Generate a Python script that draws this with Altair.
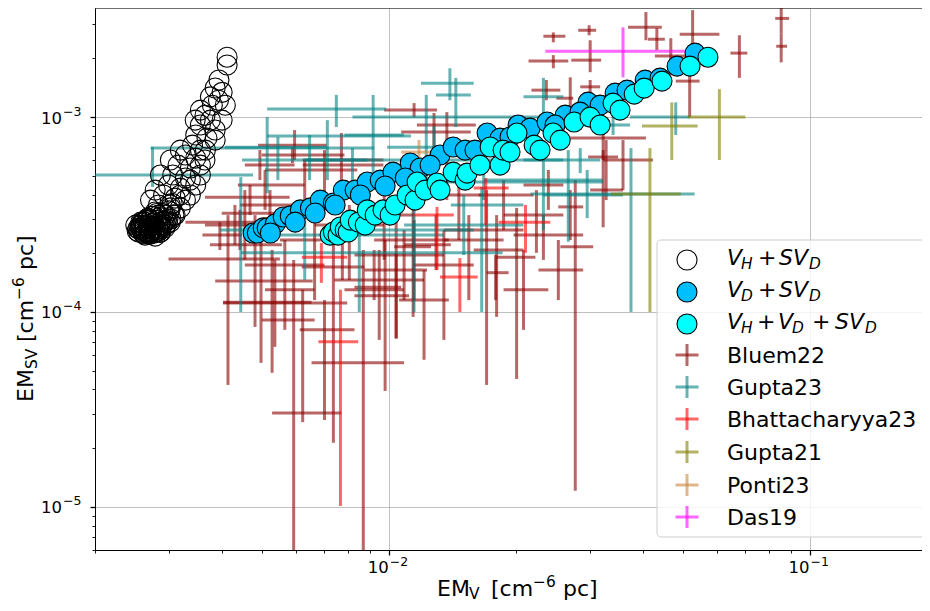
import altair as alt
import pandas as pd

# ---------------- model tracks ----------------
vhsv_x = [4.12e-3, 4.12e-3, 3.94e-3, 3.86e-3, 4.01e-3, 3.76e-3, 3.93e-3, 3.80e-3, 3.65e-3, 3.76e-3,
          3.56e-3, 3.86e-3, 3.47e-3, 3.69e-3, 3.41e-3, 3.56e-3, 3.28e-3, 3.47e-3, 3.15e-3, 3.37e-3,
          3.06e-3, 3.28e-3, 2.99e-3, 3.19e-3, 2.91e-3, 3.10e-3, 2.83e-3, 3.02e-3, 2.78e-3, 2.94e-3,
          2.70e-3, 2.86e-3, 2.63e-3, 2.78e-3, 2.57e-3, 2.70e-3, 2.63e-3, 2.78e-3, 2.94e-3, 3.10e-3,
          3.28e-3, 3.47e-3, 2.57e-3, 2.67e-3, 2.83e-3, 2.50e-3, 2.54e-3, 2.59e-3, 2.73e-3, 2.86e-3,
          3.02e-3, 3.19e-3, 3.37e-3, 3.56e-3, 3.65e-3,
          2.55e-3, 2.60e-3, 2.65e-3, 2.68e-3, 2.72e-3, 2.75e-3, 2.80e-3, 2.85e-3, 2.90e-3, 2.62e-3,
          2.70e-3, 2.76e-3, 2.82e-3, 2.88e-3, 2.95e-3, 3.00e-3, 3.05e-3, 2.58e-3, 2.66e-3, 2.74e-3,
          3.19e-3, 3.02e-3, 2.86e-3, 2.78e-3, 2.71e-3, 3.66e-3, 3.56e-3, 3.37e-3, 3.19e-3, 3.02e-3,
          3.86e-3, 4.01e-3, 4.08e-3, 3.56e-3, 3.46e-3,
          2.52e-3, 2.56e-3, 2.62e-3, 2.68e-3, 2.74e-3, 2.80e-3, 2.85e-3, 2.92e-3, 2.98e-3, 2.70e-3,
          2.53e-3, 2.57e-3, 2.61e-3, 2.64e-3, 2.67e-3, 2.71e-3, 2.73e-3, 2.77e-3, 2.80e-3, 2.83e-3,
          2.87e-3, 2.90e-3, 2.93e-3, 2.97e-3, 3.03e-3, 3.08e-3, 2.60e-3, 2.68e-3, 2.76e-3, 2.86e-3]
vhsv_y = [2.03e-3, 1.85e-3, 1.55e-3, 1.41e-3, 1.34e-3, 1.27e-3, 1.22e-3, 1.15e-3, 1.02e-3, 9.65e-4,
          9.10e-4, 8.58e-4, 8.09e-4, 7.80e-4, 7.18e-4, 6.77e-4, 6.39e-4, 6.16e-4, 5.67e-4, 5.48e-4,
          5.04e-4, 4.87e-4, 4.48e-4, 4.32e-4, 3.98e-4, 3.84e-4, 3.54e-4, 3.42e-4, 3.26e-4, 3.14e-4,
          2.96e-4, 2.89e-4, 2.79e-4, 2.70e-4, 2.70e-4, 2.57e-4, 2.48e-4, 2.45e-4, 2.79e-4, 3.14e-4,
          3.75e-4, 4.48e-4, 2.89e-4, 3.03e-4, 3.14e-4, 2.79e-4, 2.57e-4, 2.63e-4, 2.76e-4, 2.57e-4,
          2.89e-4, 3.42e-4, 3.98e-4, 5.04e-4, 6.02e-4,
          2.65e-4, 2.75e-4, 2.60e-4, 2.70e-4, 2.62e-4, 2.85e-4, 2.95e-4, 3.05e-4, 3.20e-4, 2.52e-4,
          2.50e-4, 2.55e-4, 2.65e-4, 2.75e-4, 2.95e-4, 3.30e-4, 3.60e-4, 2.85e-4, 2.95e-4, 3.10e-4,
          6.77e-4, 6.02e-4, 5.04e-4, 4.22e-4, 3.75e-4, 6.77e-4, 5.67e-4, 4.75e-4, 3.98e-4, 3.54e-4,
          7.62e-4, 9.65e-4, 1.15e-3, 1.086e-3, 9.65e-4,
          2.60e-4, 2.70e-4, 2.66e-4, 2.56e-4, 2.68e-4, 2.58e-4, 2.80e-4, 2.90e-4, 3.00e-4, 2.80e-4,
          2.68e-4, 2.78e-4, 2.90e-4, 2.56e-4, 3.00e-4, 2.74e-4, 3.10e-4, 2.62e-4, 3.20e-4, 2.60e-4,
          2.68e-4, 2.82e-4, 2.70e-4, 2.86e-4, 3.00e-4, 3.15e-4, 2.55e-4, 2.52e-4, 2.54e-4, 2.56e-4]

vdsv_x = [0.00475, 0.00486, 0.00502, 0.00513, 0.00536, 0.0056, 0.00582, 0.00615, 0.0065, 0.00686,
          0.00737, 0.00778, 0.0083, 0.00887, 0.00952, 0.01021, 0.01122, 0.01185, 0.01321, 0.01419,
          0.01515, 0.01709, 0.01834, 0.02024, 0.02162, 0.02372, 0.02619, 0.02968, 0.03172, 0.03442,
          0.03674, 0.04057, 0.04401, 0.04831, 0.0533,
          0.00522, 0.00598, 0.00667, 0.00744, 0.00854, 0.00978, 0.01092, 0.01251, 0.01599, 0.01937,
          0.02478, 0.02841]
vdsv_y = [2.54e-4, 2.54e-4, 2.70e-4, 2.70e-4, 2.83e-4, 3.07e-4, 3.11e-4, 3.34e-4, 3.42e-4, 3.75e-4,
          3.62e-4, 4.22e-4, 4.22e-4, 4.64e-4, 4.75e-4, 5.22e-4, 5.81e-4, 5.48e-4, 6.39e-4, 7.02e-4,
          6.77e-4, 8.28e-4, 7.80e-4, 9.10e-4, 8.78e-4, 9.43e-4, 1.024e-3, 1.194e-3, 1.152e-3, 1.327e-3,
          1.375e-3, 1.548e-3, 1.585e-3, 1.826e-3, 2.129e-3,
          2.54e-4, 2.89e-4, 3.22e-4, 3.54e-4, 3.98e-4, 4.43e-4, 4.87e-4, 5.67e-4, 6.77e-4, 7.90e-4,
          9.10e-4, 1.061e-3]

vhvdsv_x = [7.24e-3, 7.37e-3, 7.56e-3, 7.65e-3, 7.86e-3, 7.99e-3, 8.08e-3, 8.45e-3, 8.77e-3, 8.87e-3,
            9.26e-3, 9.67e-3, 0.01005, 0.01033, 0.01103, 0.01152, 0.01165, 0.01217, 0.01299, 0.01321,
            0.01419, 0.01515, 0.01532, 0.01643, 0.01737, 0.01834, 0.01865, 0.01937, 0.02012, 0.0221,
            0.02283, 0.02451, 0.02549, 0.0275, 0.03001, 0.03172, 0.03404, 0.03536, 0.03821, 0.04035,
            0.04449, 0.05186, 0.0572]
vhvdsv_y = [2.48e-4, 2.57e-4, 2.48e-4, 2.73e-4, 2.63e-4, 2.57e-4, 2.96e-4, 2.89e-4, 2.79e-4, 3.34e-4,
            3.14e-4, 3.34e-4, 3.14e-4, 3.54e-4, 3.98e-4, 3.75e-4, 4.64e-4, 4.22e-4, 4.59e-4, 4.22e-4,
            5.22e-4, 4.75e-4, 5.16e-4, 5.67e-4, 7.02e-4, 5.67e-4, 6.77e-4, 6.61e-4, 8.28e-4, 7.18e-4,
            6.77e-4, 8.28e-4, 7.62e-4, 9.43e-4, 1.0e-3, 9.10e-4, 1.18e-3, 1.086e-3, 1.312e-3, 1.408e-3,
            1.53e-3, 1.826e-3, 2.03e-3]

# ---------------- observations: centre and error-bar ends ----------------
bluem22_x = [0.0854, 0.0854, 0.06794, 0.0526, 0.04074, 0.04325, 0.04668, 0.05176, 0.02455, 0.02986,
             0.02455, 0.03003, 0.02363, 0.02693, 0.03003, 0.03224, 0.03277, 0.02768, 0.03224, 0.02693,
             0.02389, 0.00414, 0.00496, 0.0048, 0.00527, 0.00535, 0.00593, 0.00623, 0.00737, 0.00868,
             0.00978, 0.01039, 0.0114, 0.01704, 0.018, 0.02008, 0.00396, 0.00589, 0.0077, 0.00454,
             0.0043, 0.00467, 0.01146, 0.01278, 0.00702, 0.0063, 0.01371, 0.00596, 0.00947, 0.01146,
             0.0179, 0.01292, 0.01085, 0.01039, 0.02238, 0.02325, 0.00774, 0.00921, 0.00507, 0.00493,
             0.00665, 0.00804, 0.00565, 0.01349, 0.01546, 0.02085, 0.02523, 0.0121, 0.00702, 0.00442,
             0.00521, 0.0187, 0.03594, 0.00973, 0.01464]
bluem22_y = [3.21e-3, 2.31e-3, 2.13e-3, 2.66e-3, 2.89e-3, 2.51e-3, 2.06e-3, 1.53e-3, 2.60e-3, 2.79e-3,
             1.94e-3, 1.96e-3, 1.375e-3, 1.25e-3, 1.43e-3, 7.80e-4, 6.24e-4, 2.16e-4, 4.22e-4, 3.46e-4,
             4.48e-4, 1.87e-4, 1.44e-4, 2.21e-4, 1.30e-4, 1.12e-4, 9.10e-5, 3.03e-5, 1.11e-4, 5.48e-5,
             1.46e-4, 1.96e-4, 2.34e-4, 2.63e-4, 2.08e-4, 1.91e-4, 2.48e-4, 6.39e-4, 6.02e-4, 3.21e-4,
             2.89e-4, 3.88e-4, 1.086e-3, 9.10e-4, 5.67e-4, 5.35e-4, 8.38e-4, 7.18e-4, 1.34e-4, 2.16e-4,
             1.59e-4, 2.21e-4, 1.64e-4, 1.21e-4, 3.14e-4, 2.48e-4, 1.70e-4, 1.30e-4, 4.48e-4, 5.67e-4,
             2.34e-4, 2.79e-4, 1.74e-4, 1.74e-4, 2.34e-4, 1.30e-4, 1.64e-4, 1.15e-4, 8.09e-5, 2.79e-4,
             3.54e-4, 3.98e-4, 6.02e-4, 3.14e-4, 3.98e-4]
bluem22_xlo = [0.08265, 0.0831, 0.06469, 0.04902, 0.03694, 0.04119, 0.04279, 0.04796, 0.02325, 0.02813,
               0.02143, 0.02708, 0.02178, 0.02496, 0.02844, 0.02593, 0.0297, 0.02551, 0.03003, 0.02523,
               0.02085, 0.00299, 0.00386, 0.00375, 0.00507, 0.00403, 0.00498, 0.00527, 0.00403, 0.00654,
               0.00741, 0.00827, 0.00921, 0.01349, 0.01588, 0.018, 0.0036, 0.00498, 0.00623, 0.004,
               0.00328, 0.00365, 0.00973, 0.01164, 0.00623, 0.00507, 0.01068, 0.00488, 0.00827, 0.01028,
               0.01704, 0.01085, 0.00873, 0.00827, 0.0187, 0.01975, 0.0062, 0.00783, 0.00437, 0.00454,
               0.0055, 0.00665, 0.00454, 0.01146, 0.01349, 0.0187, 0.02263, 0.01056, 0.00613, 0.00365,
               0.00442, 0.01632, 0.03224, 0.00804, 0.01278]
bluem22_xhi = [0.0892, 0.0882, 0.07096, 0.0609, 0.04445, 0.04518, 0.05203, 0.05465, 0.02622, 0.03103,
               0.02664, 0.03189, 0.02551, 0.02738, 0.03172, 0.04074, 0.03498, 0.03053, 0.03594, 0.0289,
               0.02593, 0.0055, 0.00658, 0.00556, 0.00665, 0.00654, 0.00665, 0.0077, 0.00795, 0.01085,
               0.0121, 0.01349, 0.01386, 0.02085, 0.02085, 0.02226, 0.00447, 0.00783, 0.00969, 0.0063,
               0.0063, 0.0058, 0.01299, 0.01606, 0.00969, 0.0084, 0.01563, 0.0071, 0.01068, 0.01257,
               0.01922, 0.01401, 0.0123, 0.01115, 0.02593, 0.0289, 0.00873, 0.01085, 0.0063, 0.00596,
               0.00804, 0.00973, 0.00702, 0.01588, 0.0187, 0.02389, 0.0289, 0.01386, 0.00827, 0.00535,
               0.0063, 0.02202, 0.04232, 0.01146, 0.01677]
bluem22_ylo = [2.69e-3, 1.91e-3, 1.59e-3, 2.34e-3, 2.48e-3, 2.21e-3, 1.64e-3, 1.0e-3, 2.42e-3, 2.63e-3,
               1.78e-3, 1.70e-3, 1.22e-3, 1.086e-3, 1.22e-3, 6.02e-4, 3.75e-4, 1.21e-5, 2.72e-4, 2.34e-4,
               3.34e-4, 4.22e-5, 5.48e-5, 8.38e-5, 4.87e-5, 6.62e-5, 5.0e-6, 2.72e-5, 2.13e-5, 5.0e-6,
               3.93e-5, 7.27e-5, 9.43e-5, 4.22e-5, 9.43e-5, 4.53e-5, 2.08e-4, 5.80e-4, 3.75e-4, 1.85e-4,
               2.21e-4, 3.14e-4, 1.0e-3, 4.75e-4, 3.75e-4, 3.34e-4, 3.75e-4, 6.02e-4, 7.19e-5, 1.15e-4,
               1.15e-4, 1.64e-4, 1.15e-4, 7.36e-5, 2.01e-4, 1.85e-4, 1.46e-4, 1.15e-4, 3.34e-4, 4.75e-4,
               1.15e-4, 1.46e-4, 8.09e-5, 7.19e-5, 1.15e-4, 8.09e-5, 1.15e-4, 5.68e-5, 2.79e-5, 2.08e-4,
               2.34e-4, 2.63e-4, 4.22e-4, 1.85e-4, 2.34e-4]
bluem22_yhi = [3.66e-3, 2.69e-3, 2.63e-3, 3.54e-3, 3.46e-3, 2.86e-3, 2.54e-3, 1.81e-3, 2.72e-3, 2.96e-3,
               2.08e-3, 2.48e-3, 1.55e-3, 1.60e-3, 1.55e-3, 9.10e-4, 7.62e-4, 4.75e-4, 6.77e-4, 4.22e-4,
               5.35e-4, 3.14e-4, 2.34e-4, 3.14e-4, 2.08e-4, 1.85e-4, 1.85e-4, 1.30e-4, 2.34e-4, 2.08e-4,
               2.34e-4, 3.75e-4, 3.75e-4, 4.22e-4, 3.14e-4, 3.42e-4, 2.89e-4, 7.01e-4, 8.28e-4, 4.22e-4,
               3.54e-4, 4.48e-4, 1.18e-3, 1.05e-3, 6.77e-4, 6.02e-4, 1.06e-3, 8.58e-4, 2.08e-4, 2.96e-4,
               1.96e-4, 3.14e-4, 2.63e-4, 2.01e-4, 4.22e-4, 3.14e-4, 2.34e-4, 2.08e-4, 5.35e-4, 6.77e-4,
               3.14e-4, 3.54e-4, 2.34e-4, 2.63e-4, 3.14e-4, 2.08e-4, 2.34e-4, 1.64e-4, 1.15e-4, 3.34e-4,
               4.22e-4, 4.75e-4, 7.62e-4, 3.98e-4, 5.04e-4]

gupta23_x = [0.04796, 0.03754, 0.01394, 0.0144, 0.00749, 0.01225, 0.00916, 0.00274, 0.00444, 0.00849,
             0.01146, 0.01659, 0.02664, 0.02954, 0.02844, 0.03404, 0.02325, 0.00713, 0.00513, 0.00647,
             0.00544, 0.00818, 0.01278, 0.0063, 0.01504, 0.01677, 0.02325]
gupta23_y = [1.0e-3, 4.03e-4, 1.49e-3, 1.30e-3, 1.10e-3, 1.0e-3, 8.09e-4, 5.04e-4, 2.63e-4, 2.01e-4,
             2.63e-4, 3.54e-4, 4.75e-4, 3.98e-4, 6.02e-4, 9.10e-4, 1.27e-3, 8.0e-4, 6.02e-4, 6.93e-4,
             7.01e-4, 6.02e-4, 7.01e-4, 2.48e-4, 2.79e-4, 6.02e-4, 4.64e-4]
gupta23_xlo = [0.03735, 0.02167, 0.0119, 0.01292, 0.00513, 0.00818, 0.00783, 0.001, 0.00396, 0.00444,
               0.00873, 0.01401, 0.01677, 0.02325, 0.02085, 0.02593, 0.02085, 0.00513, 0.00447, 0.00271,
               0.00407, 0.0063, 0.00989, 0.0048, 0.01085, 0.01127, 0.01371]
gupta23_xhi = [0.05176, 0.05318, 0.01588, 0.01563, 0.00984, 0.02593, 0.01085, 0.00475, 0.00521, 0.0186,
               0.01588, 0.02085, 0.03224, 0.03594, 0.03172, 0.03735, 0.02593, 0.01127, 0.00887, 0.00921,
               0.0071, 0.01278, 0.01588, 0.01349, 0.02085, 0.02593, 0.03224]
gupta23_ylo = [8.09e-4, 1.0e-4, 1.22e-3, 8.89e-4, 8.89e-4, 4.75e-4, 4.75e-4, 4.38e-4, 1.0e-4, 1.0e-4,
               1.0e-4, 1.0e-4, 2.29e-4, 3.03e-4, 5.16e-4, 8.09e-4, 9.65e-4, 4.75e-4, 4.07e-4, 4.75e-4,
               4.75e-4, 3.75e-4, 4.22e-4, 1.46e-4, 1.96e-4, 3.75e-4, 2.63e-4]
gupta23_yhi = [1.19e-3, 6.93e-4, 1.78e-3, 1.59e-3, 1.30e-3, 1.30e-3, 1.30e-3, 7.01e-4, 4.92e-4, 3.14e-4,
               3.75e-4, 4.38e-4, 6.77e-4, 5.35e-4, 6.93e-4, 1.22e-3, 1.59e-3, 9.65e-4, 1.0e-3, 8.09e-4,
               7.9e-4, 6.93e-4, 8.99e-4, 3.14e-4, 3.98e-4, 8.58e-4, 6.02e-4]

bhatt23_x = [7.66e-3, 6.90e-3, 0.01472, 0.02108, 0.01696, 0.01299]
bhatt23_y = [7.02e-5, 1.91e-4, 1.51e-4, 2.89e-4, 4.32e-4, 3.14e-4]
bhatt23_xlo = [6.79e-3, 6.20e-3, 0.0132, 0.0182, 0.01588, 0.01146]
bhatt23_xhi = [8.44e-3, 7.95e-3, 0.01623, 0.02415, 0.01922, 0.01424]
bhatt23_ylo = [1.01e-5, 1.41e-4, 1.0e-4, 2.01e-4, 2.79e-4, 1.64e-4]
bhatt23_yhi = [1.30e-4, 2.26e-4, 1.89e-4, 3.54e-4, 4.86e-4, 3.46e-4]

gupta21_x = [0.0609, 0.04693, 0.04164]
gupta21_y = [1.0e-3, 8.99e-4, 4.03e-4]
gupta21_xlo = [0.0512, 0.03986, 0.03367]
gupta21_xhi = [0.0702, 0.05406, 0.04929]
gupta21_ylo = [6.02e-4, 6.02e-4, 1.0e-4]
gupta21_yhi = [1.391e-3, 1.19e-3, 6.93e-4]

ponti23_x = [0.01177]
ponti23_y = [6.61e-4]
ponti23_xlo = [0.01068]
ponti23_xhi = [0.01264]
ponti23_ylo = [6.02e-4]
ponti23_yhi = [7.62e-4]

das19_x = [0.03594]
das19_y = [2.18e-3]
das19_xlo = [0.0235]
das19_xhi = [0.05176]
das19_ylo = [1.60e-3]
das19_yhi = [2.89e-3]

obs_names = ["Bluem22", "Gupta23", "Bhattacharyya23", "Gupta21", "Ponti23", "Das19"]
obs_colors = ["#8b0000", "#008080", "#ff0000", "#808000", "#cd853f", "#ff00ff"]

# tick labels (mantissa "10" + exponent)
x_label_vals = [0.01, 0.1]
x_label_exp = ["\u22122", "\u22121"]
y_label_vals = [1e-5, 1e-4, 1e-3]
y_label_exp = ["\u22125", "\u22124", "\u22123"]

# ---------------- build tables ----------------
obs_sets = [
    ("Bluem22", bluem22_x, bluem22_y, bluem22_xlo, bluem22_xhi, bluem22_ylo, bluem22_yhi),
    ("Gupta23", gupta23_x, gupta23_y, gupta23_xlo, gupta23_xhi, gupta23_ylo, gupta23_yhi),
    ("Bhattacharyya23", bhatt23_x, bhatt23_y, bhatt23_xlo, bhatt23_xhi, bhatt23_ylo, bhatt23_yhi),
    ("Gupta21", gupta21_x, gupta21_y, gupta21_xlo, gupta21_xhi, gupta21_ylo, gupta21_yhi),
    ("Ponti23", ponti23_x, ponti23_y, ponti23_xlo, ponti23_xhi, ponti23_ylo, ponti23_yhi),
    ("Das19", das19_x, das19_y, das19_xlo, das19_xhi, das19_ylo, das19_yhi),
]
rows = []
for name, xs_, ys_, xl, xh, yl, yh in obs_sets:
    for i in range(len(xs_)):
        rows.append({"src": name, "x1": xs_[i], "x2": xs_[i], "y1": yl[i], "y2": yh[i]})
        rows.append({"src": name, "x1": xl[i], "x2": xh[i], "y1": ys_[i], "y2": ys_[i]})
seg = pd.DataFrame(rows)

df_vhsv = pd.DataFrame({"x": vhsv_x, "y": vhsv_y})
df_vdsv = pd.DataFrame({"x": vdsv_x, "y": vdsv_y})
df_vhvdsv = pd.DataFrame({"x": vhvdsv_x, "y": vhvdsv_y})
df_xl = pd.DataFrame({"v": x_label_vals, "e": x_label_exp})
df_yl = pd.DataFrame({"v": y_label_vals, "e": y_label_exp})
one = pd.DataFrame({"k": [0]})

# ---------------- scales & axes ----------------
W, H = 827, 542
X_DOMAIN = [0.002, 0.1845]
Y_DOMAIN = [6e-6, 3.63e-3]
FONT = "DejaVu Sans"

xscale = alt.Scale(type="log", domain=X_DOMAIN, nice=False)
yscale = alt.Scale(type="log", domain=Y_DOMAIN, nice=False)

MAJOR = "abs(log(datum.value)/LN10 - round(log(datum.value)/LN10)) < 0.001"

x_ticks = [m * 10.0 ** e for e in (-3, -2, -1) for m in range(1, 10)
           if X_DOMAIN[0] * 0.999 <= m * 10.0 ** e <= X_DOMAIN[1]]
y_ticks = [m * 10.0 ** e for e in (-6, -5, -4, -3) for m in range(1, 10)
           if Y_DOMAIN[0] * 0.999 <= m * 10.0 ** e <= Y_DOMAIN[1]]


def make_axis(values, orient):
    return alt.Axis(
        values=values, orient=orient, title=None, labels=False,
        grid=True, gridColor="#b0b0b0", gridWidth=0.8,
        gridOpacity={"condition": {"test": MAJOR, "value": 1}, "value": 0},
        tickColor="black",
        tickSize={"condition": {"test": MAJOR, "value": 5}, "value": 3},
        tickWidth={"condition": {"test": MAJOR, "value": 1.3}, "value": 0.9},
        domainColor="black", domainWidth=1,
    )


xaxis = make_axis(x_ticks, "bottom")
yaxis = make_axis(y_ticks, "left")

# ---------------- data layers ----------------
bars = alt.Chart(seg).mark_rule(strokeWidth=3, opacity=0.6, clip=True).encode(
    x=alt.X("x1:Q", scale=xscale, axis=xaxis),
    x2="x2:Q",
    y=alt.Y("y1:Q", scale=yscale, axis=yaxis),
    y2="y2:Q",
    color=alt.Color("src:N", scale=alt.Scale(domain=obs_names, range=obs_colors), legend=None),
)


def circles(df, fill):
    if fill is None:
        mk = alt.Chart(df).mark_point(shape="circle", size=400, filled=False, color="black",
                                      strokeWidth=1.1, opacity=1, clip=True)
    else:
        mk = alt.Chart(df).mark_point(shape="circle", size=400, filled=True, fill=fill,
                                      stroke="black", strokeWidth=1.1, opacity=1,
                                      fillOpacity=1, clip=True)
    return mk.encode(x=alt.X("x:Q", scale=xscale, axis=xaxis),
                     y=alt.Y("y:Q", scale=yscale, axis=yaxis))


c_open = circles(df_vhsv, None)
c_blue = circles(df_vdsv, "#00bfff")
c_cyan = circles(df_vhvdsv, "#00ffff")

top_spine = alt.Chart(one).mark_rule(color="black", strokeWidth=1).encode(
    x=alt.value(0), x2=alt.value(W), y=alt.value(0))

# tick labels 10^n built from two text pieces positioned by the scales
TL, TS = 16.5, 12.5
xl_main = alt.Chart(df_xl).mark_text(text="10", font=FONT, fontSize=TL, align="right",
                                     baseline="alphabetic", color="black", dx=-0.5).encode(
    x=alt.X("v:Q", scale=xscale, axis=xaxis), y=alt.value(H + 23))
xl_exp = alt.Chart(df_xl).mark_text(font=FONT, fontSize=TS, align="left",
                                    baseline="alphabetic", color="black", dx=0.5).encode(
    x=alt.X("v:Q", scale=xscale, axis=xaxis), y=alt.value(H + 16), text="e:N")
yl_main = alt.Chart(df_yl).mark_text(text="10", font=FONT, fontSize=TL, align="right",
                                     baseline="alphabetic", color="black", dy=6.5).encode(
    y=alt.Y("v:Q", scale=yscale, axis=yaxis), x=alt.value(-33))
yl_exp = alt.Chart(df_yl).mark_text(font=FONT, fontSize=TS, align="left",
                                    baseline="alphabetic", color="black", dy=-1.5).encode(
    y=alt.Y("v:Q", scale=yscale, axis=yaxis), x=alt.value(-32), text="e:N")


# ---------------- legend (drawn by hand for the math labels) ----------------
def txt(s, x, y, size=22, style="normal", angle=0):
    return alt.Chart(one).mark_text(text=s, font=FONT, fontSize=size, fontStyle=style,
                                    align="left", baseline="alphabetic", color="black",
                                    angle=angle).encode(x=alt.value(x), y=alt.value(y))


legend_layers = [
    alt.Chart(one).mark_rect(fill="white", fillOpacity=0.8, stroke="#cccccc", strokeWidth=1,
                             cornerRadius=4).encode(
        x=alt.value(562), x2=alt.value(831), y=alt.value(232), y2=alt.value(529))
]
SX = 592
rows_c = [252, 284, 316, 347, 379, 411, 444, 477, 509]
for yc, fill in zip(rows_c[:3], [None, "#00bfff", "#00ffff"]):
    if fill is None:
        m = alt.Chart(one).mark_point(shape="circle", size=400, filled=False, color="black",
                                      strokeWidth=1.1, opacity=1)
    else:
        m = alt.Chart(one).mark_point(shape="circle", size=400, filled=True, fill=fill,
                                      stroke="black", strokeWidth=1.1, opacity=1)
    legend_layers.append(m.encode(x=alt.value(SX), y=alt.value(yc)))
for yc, col, name in zip(rows_c[3:], obs_colors, obs_names):
    legend_layers.append(alt.Chart(one).mark_rule(color=col, strokeWidth=3, opacity=0.6).encode(
        x=alt.value(SX - 11.5), x2=alt.value(SX + 11.5), y=alt.value(yc)))
    legend_layers.append(alt.Chart(one).mark_rule(color=col, strokeWidth=3, opacity=0.6).encode(
        x=alt.value(SX), y=alt.value(yc - 11), y2=alt.value(yc + 11)))
    legend_layers.append(txt(name, 632, yc + 8))

SUB = 15.4
r = rows_c[0]
legend_layers += [txt("V", 632, r + 5, style="italic"), txt("H", 646, r + 9, SUB, "italic"),
                  txt("+", 663, r + 5), txt("SV", 684, r + 5, style="italic"),
                  txt("D", 714, r + 9, SUB, "italic")]
r = rows_c[1]
legend_layers += [txt("V", 632, r + 5, style="italic"), txt("D", 646, r + 9, SUB, "italic"),
                  txt("+", 663, r + 5), txt("SV", 684, r + 5, style="italic"),
                  txt("D", 714, r + 9, SUB, "italic")]
r = rows_c[2]
legend_layers += [txt("V", 632, r + 5, style="italic"), txt("H", 646, r + 9, SUB, "italic"),
                  txt("+", 662, r + 5), txt("V", 683, r + 5, style="italic"),
                  txt("D", 697, r + 9, SUB, "italic"), txt("+", 717, r + 5),
                  txt("SV", 740, r + 5, style="italic"), txt("D", 770, r + 9, SUB, "italic")]

# ---------------- axis titles (with sub/superscripts) ----------------
title_layers = [
    txt("EM", 342, 588), txt("V", 374, 591, SUB), txt("[cm", 396, 588),
    txt("\u22126", 438, 579, SUB), txt("pc]", 468, 588),
    txt("EM", -62, 394, angle=270), txt("SV", -58, 361, SUB, angle=270),
    txt("[cm", -62, 334, angle=270), txt("\u22126", -71, 292, SUB, angle=270),
    txt("pc]", -62, 262, angle=270),
]

chart = alt.layer(
    bars, c_open, c_blue, c_cyan, top_spine, xl_main, xl_exp, yl_main, yl_exp,
    *legend_layers, *title_layers
).properties(
    width=W, height=H,
    autosize=alt.AutoSizeParams(type="none"),
    padding={"left": 87, "top": 0, "right": 0, "bottom": 53},
).configure_view(stroke=None).configure(background="white")

chart.save("out.html", embed_options={"renderer": "svg", "actions": False})
